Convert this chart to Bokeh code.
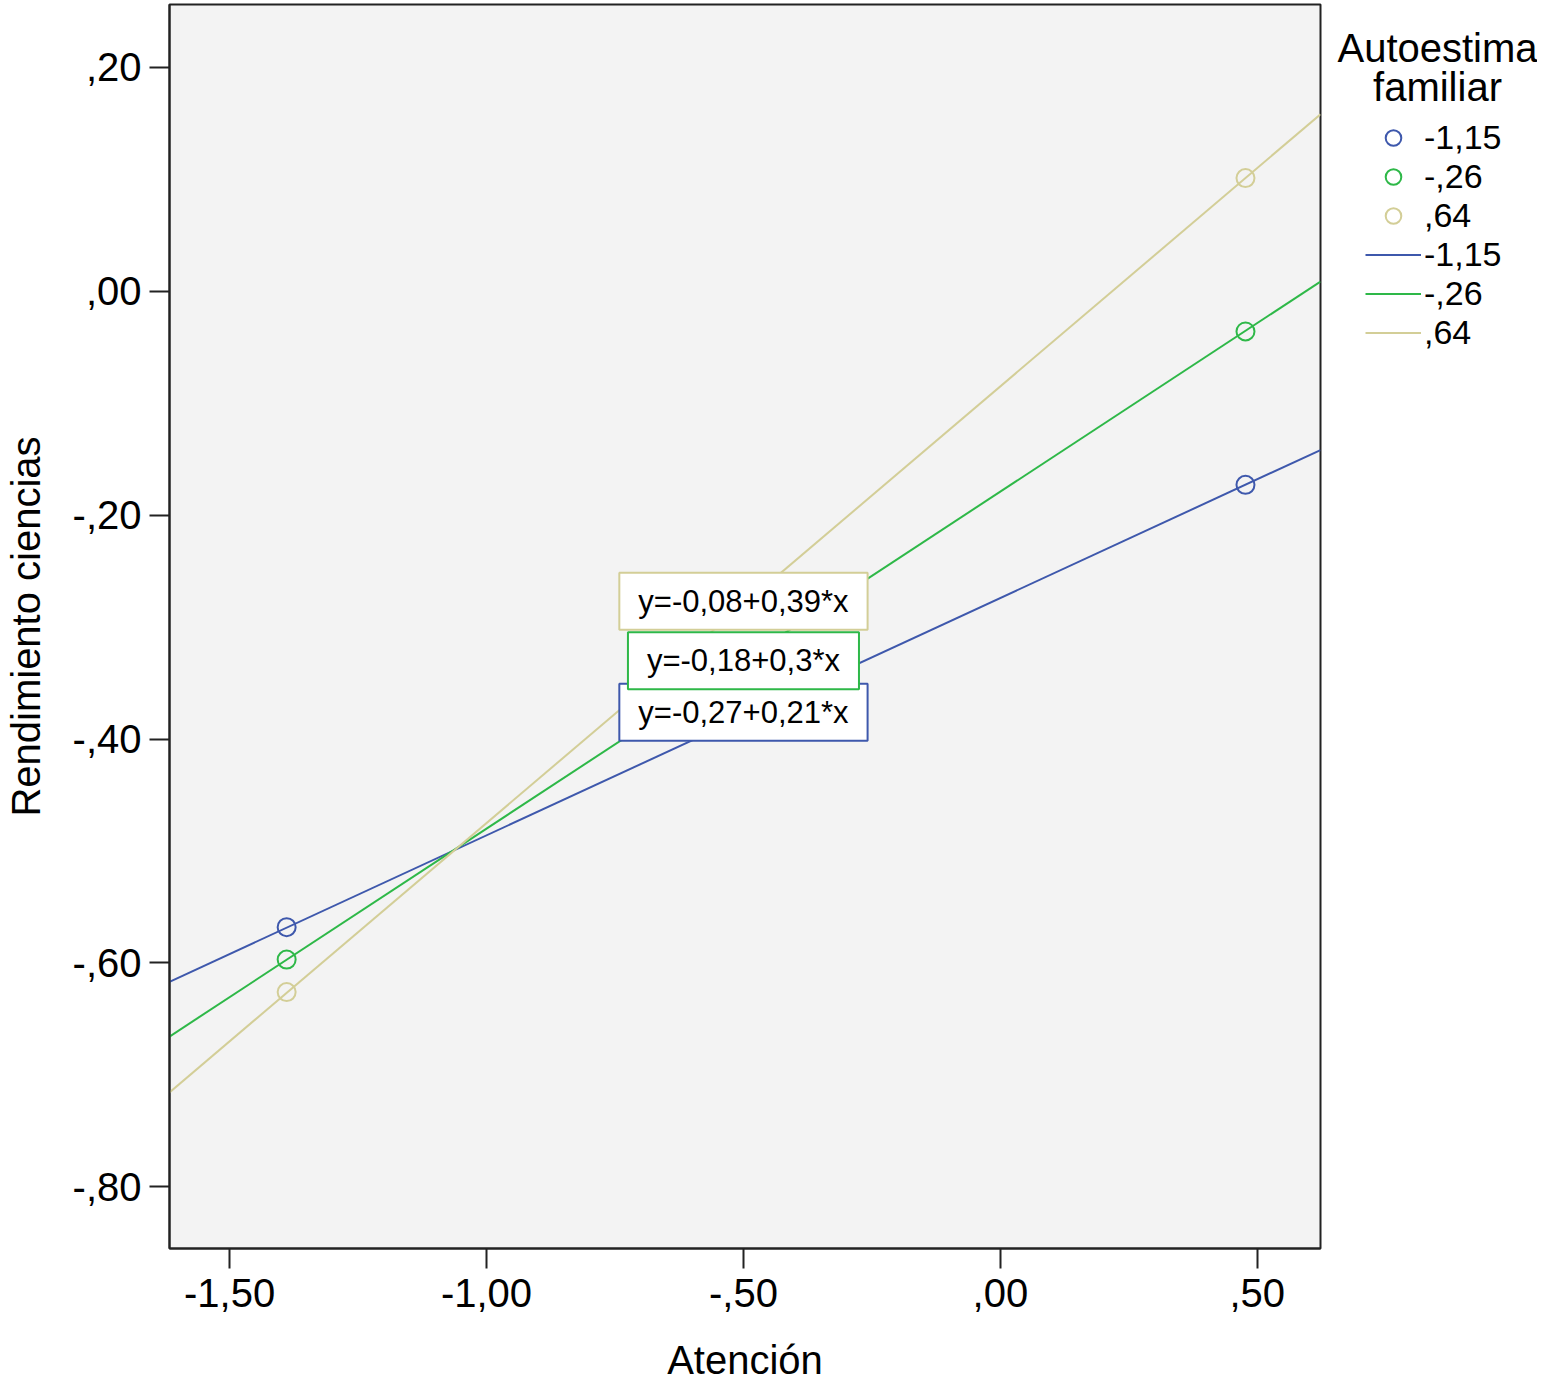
from bokeh.plotting import figure
from bokeh.layouts import row
from bokeh.models import (Range1d, FixedTicker, CustomJSTickFormatter, Legend, LegendItem, Label)
from bokeh.embed import file_html
from bokeh.resources import INLINE

# ---- data ----
groups = ["-1,15", "-,26", ",64"]
colors = ["#3E58AC", "#2EB848", "#D3CE97"]
point_x = [-1.389, 0.477]
point_y = {
    "-1,15": [-0.568, -0.173],
    "-,26": [-0.597, -0.036],
    ",64": [-0.626, 0.101],
}
intercepts = [-0.274, -0.179, -0.085]
slopes = [0.212, 0.301, 0.390]
equations = ["y=-0,27+0,21*x", "y=-0,18+0,3*x", "y=-0,08+0,39*x"]
x_ticks = [-1.5, -1.0, -0.5, 0.0, 0.5]
y_ticks = [0.2, 0.0, -0.2, -0.4, -0.6, -0.8]
legend_title = "Autoestima\nfamiliar"

# label placement (data coords) - style
eq_pos = [(-0.5, -0.376), (-0.5, -0.330), (-0.5, -0.277)]

FONT = "Liberation Sans"
H = 1398

x_range = Range1d(-1.617, 0.623)
y_range = Range1d(-0.855, 0.256)

p = figure(frame_width=1151, frame_height=1244, x_range=x_range, y_range=y_range,
           output_backend="svg", toolbar_location=None,
           min_border_left=150, min_border_top=4, min_border_right=2, min_border_bottom=120)
p.background_fill_color = "#F3F3F3"
p.border_fill_color = "white"
p.outline_line_color = "#222222"
p.outline_line_width = 2
p.xgrid.visible = False
p.ygrid.visible = False

fmt = CustomJSTickFormatter(code="""
let s = tick.toFixed(2).replace('.', ',');
s = s.replace(/^(-?)0,/, '$1,');
return s;
""")

for ax, ticks in ((p.xaxis[0], x_ticks), (p.yaxis[0], y_ticks)):
    ax.ticker = FixedTicker(ticks=ticks)
    ax.formatter = fmt
    ax.major_tick_out = 20
    ax.major_tick_in = 0
    ax.minor_tick_line_color = None
    ax.major_tick_line_width = 2
    ax.major_tick_line_color = "#222222"
    ax.axis_line_width = 2
    ax.axis_line_color = "#222222"
    ax.major_label_text_font = FONT
    ax.major_label_text_font_size = "40px"
    ax.major_label_text_color = "black"
    ax.axis_label_text_font = FONT
    ax.axis_label_text_font_size = "40px"
    ax.axis_label_text_font_style = "normal"
    ax.axis_label_text_color = "black"

p.xaxis.axis_label = "Atención"
p.yaxis.axis_label = "Rendimiento ciencias"
p.xaxis.major_label_standoff = 10
p.yaxis.major_label_standoff = 8
p.xaxis.axis_label_standoff = 28
p.yaxis.axis_label_standoff = 22

line_renderers = []
circ_renderers = []
xs_line = [x_range.start, x_range.end]
for g, c, a, b in zip(groups, colors, intercepts, slopes):
    ys_line = [a + b * x for x in xs_line]
    lr = p.line(xs_line, ys_line, line_color=c, line_width=2)
    line_renderers.append(lr)
for g, c in zip(groups, colors):
    cr = p.scatter(point_x, point_y[g], marker="circle", size=18, line_color=c,
                   line_width=2, fill_alpha=0)
    circ_renderers.append(cr)

for (ex, ey), eq, c in zip(eq_pos, equations, colors):
    lab = Label(x=ex, y=ey, text=eq, text_align="center", text_baseline="middle",
                text_font=FONT, text_font_size="31px", text_color="black",
                background_fill_color="white", border_line_color=c, border_line_width=2,
                padding=(19, 11))
    p.add_layout(lab)

# ---- legend panel (separate small figure to the right) ----
LW = 215
F = 461  # frame height of the legend panel (title + items)
p2 = figure(frame_width=LW, frame_height=F, x_range=Range1d(0, LW), y_range=Range1d(0, F),
            output_backend="svg", toolbar_location=None, x_axis_type=None, y_axis_type=None,
            min_border=0, min_border_bottom=H - F)
p2.outline_line_color = None
p2.background_fill_color = "white"
p2.border_fill_color = "white"
p2.xgrid.visible = False
p2.ygrid.visible = False

# off-screen sample glyphs that only serve as legend swatches
dummy_c = [p2.scatter([-1000], [-1000], marker="circle", size=20, line_color=c,
                      line_width=2, fill_alpha=0) for c in colors]
dummy_l = [p2.line([-1000, -999], [-1000, -1000], line_color=c, line_width=2) for c in colors]

p2.add_layout(Label(x=115, y=F - 63, text=legend_title, text_align="center",
                    text_baseline="middle", text_font=FONT, text_font_size="40px",
                    text_color="black", text_line_height=0.89))

items = [LegendItem(label=g, renderers=[r]) for g, r in zip(groups, dummy_c)]
items += [LegendItem(label=g, renderers=[r]) for g, r in zip(groups, dummy_l)]
legend = Legend(items=items, location="left",
                label_text_font=FONT, label_text_font_size="34px", label_text_color="black",
                label_standoff=3,
                glyph_width=56, glyph_height=39, label_height=39, spacing=0,
                padding=0, margin=43, border_line_color=None, background_fill_alpha=0)
p2.add_layout(legend)

layout = row(p, p2, spacing=0)
open("out.html", "w").write(file_html(layout, INLINE))
